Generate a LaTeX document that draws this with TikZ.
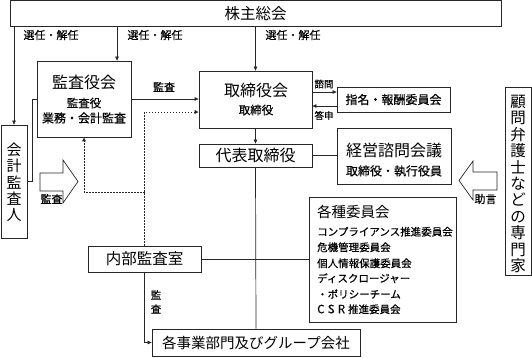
\documentclass[tikz,border=0pt]{standalone}
\usepackage{fontspec}
\setmainfont{Noto Sans CJK JP}
\newfontfamily\semib{Noto Sans CJK JP}[FakeBold=0.5]
\usetikzlibrary{arrows.meta,calc}
\newcommand\myfs[1]{\fontsize{#1}{#1}\selectfont}
\newcommand\smfs[1]{\semib\fontsize{#1}{#1}\selectfont}
\begin{document}
\begin{tikzpicture}[x=1pt,y=-1pt,
  box/.style={draw=black!85, line width=0.8pt, inner sep=0pt, align=center},
  txt/.style={inner sep=0pt, align=center},
  lbl/.style={inner sep=0pt, font=\smfs{11}},
  ln/.style={draw=black!85, line width=0.7pt},
  arr/.style={ln, -{Triangle[length=4pt,width=3.6pt]}},
  dots/.style={draw=black!85, line width=1pt, dash pattern=on 1.2pt off 1.8pt},
  darr/.style={dots, -{Triangle[length=4pt,width=3.6pt]}},
  blockarrow/.style={draw=black!85, line width=0.7pt, fill=white, line join=miter}
]
\useasboundingbox (0,0) rectangle (532,357);

% boxes
\node[box, minimum width=491pt, minimum height=26pt, font=\myfs{15.5}] (s) at (255.5,13.5) {株主総会};
\node[box, minimum width=26pt, minimum height=113pt] (a) at (14,181.5) {};
\node[txt, font=\fontsize{15}{16.3}\selectfont] (at) at (14,182.5) {会\\計\\監\\査\\人};
\node[box, minimum width=26pt, minimum height=188pt] (p) at (518,181) {};
\node[txt, font=\fontsize{15.5}{16.4}\selectfont] (pt) at (518,184) {顧\\問\\弁\\護\\士\\な\\ど\\の\\専\\門\\家};

\node[box, minimum width=94pt, minimum height=76pt] (k) at (84,99) {};
\node[txt, font=\myfs{16}] (k1) at (84,82) {監査役会};
\node[txt, font=\smfs{11.5}] (k2) at (84,103) {監査役};
\node[txt, font=\smfs{12}] (k3) at (84,118) {業務・会計監査};

\node[box, minimum width=113pt, minimum height=57pt] (t) at (255.5,99.5) {};
\node[txt, font=\myfs{16}] (t1) at (256,90) {取締役会};
\node[txt, font=\smfs{11.5}] (t2) at (256,110) {取締役};

\node[box, minimum width=113pt, minimum height=23pt, font=\myfs{16}] (d) at (255.5,155.5) {代表取締役};
\node[box, minimum width=113pt, minimum height=25pt, font=\smfs{12}] (n) at (393.5,99.5) {指名・報酬委員会};

\node[box, minimum width=114pt, minimum height=56pt] (m) at (394,156) {};
\node[txt, font=\myfs{16}] (m1) at (394,150.5) {経営諮問会議};
\node[txt, font=\smfs{12}] (m2) at (394,171) {取締役・執行役員};

\node[box, minimum width=147pt, minimum height=125pt] (c) at (382.5,259.5) {};
\node[txt, anchor=west, font=\myfs{14.5}] (c0) at (317,211.7) {各種委員会};
\node[txt, anchor=west, font=\smfs{10.5}] (c1) at (317,231.7) {コンプライアンス推進委員会};
\node[txt, anchor=west, font=\smfs{10.5}] (c2) at (317,247.3) {危機管理委員会};
\node[txt, anchor=west, font=\smfs{10.5}] (c3) at (317,263.3) {個人情報保護委員会};
\node[txt, anchor=west, font=\smfs{10.5}] (c4) at (317,278.3) {ディスクロージャー};
\node[txt, anchor=west, font=\smfs{10.5}] (c5) at (317,294) {・ポリシーチーム};
\node[txt, anchor=west, font=\smfs{10.5}] (c6) at (317,309.3) {\fontsize{11.5}{11.5}\selectfont C\kern3.2pt S\kern3.2pt R\kern3pt\fontsize{10.5}{10.5}\selectfont 推進委員会};

\node[box, minimum width=113pt, minimum height=26pt, font=\myfs{15.5}] (i) at (144.5,259) {内部監査室};
\node[box, minimum width=208pt, minimum height=27pt, font=\myfs{14.5}] (j) at (256,342.5) {各事業部門及びグループ会社};

% helper coordinates
\coordinate (xk) at (117,0);
\coordinate (yu) at (0,112);
\coordinate (yk) at (0,192);
\coordinate (ya) at (0,181);
\coordinate (xa) at (32,0);
\coordinate (y1) at (0,92);
\coordinate (y2) at (0,106);

% connectors from 株主総会
\draw[arr] (s.south -| a.north) -- (a.north);
\draw[arr] (s.south -| xk) -- (k.north -| xk);
\draw[arr] (s.south -| t.north) -- (t.north);
\node[lbl] (l1) at (51,35) {選任・解任};
\node[lbl] (l2) at (155,35) {選任・解任};
\node[lbl] (l3) at (293,35) {選任・解任};

% 監査役会 -> 取締役会
\draw[arr] (k.east) -- (k.east -| t.west);
\node[lbl] (l4) at (164,87) {監査};

% 取締役会 -> 代表取締役 -> 各事業部門
\draw[arr] (t.south) -- (d.north);
\draw[ln] (d.south) -- (j.north);
\draw[ln] (d.east) -- (d.east -| m.west);

% 指名・報酬委員会
\draw[arr] (t.east |- y1) -- (n.west |- y1);
\draw[arr] (n.west |- y2) -- (t.east |- y2);
\node[lbl, font=\smfs{9.5}] (l5) at (324,84) {諮問};
\node[lbl, font=\smfs{9.5}] (l6) at (324,115.5) {答申};

% 会計監査人 bracket
\draw[ln] (a.east |- ya) -- (xa |- ya) -- (xa |- k.west) -- (k.west);

% dotted reporting lines
\draw[darr] (i.north) -- (i.north |- yu) -- (t.west |- yu);
\draw[darr] (i.north |- yk) -- (k.south |- yk) -- (k.south);

% 内部監査室 lines
\draw[ln] (i.east) -- (i.east -| c.west);
\draw[arr] (i.south) |- (j.west);
\node[txt, font=\semib\fontsize{10.5}{14}\selectfont] (l7) at (156,302) {監\\査};

% block arrows
\draw[blockarrow] (40,173) -- (63,173) -- (63,160) -- (78,181.5) -- (63,203) -- (63,191) -- (40,191) -- cycle;
\node[lbl] (l8) at (51.5,199) {監査};
\draw[blockarrow] (497,172) -- (473,172) -- (473,161) -- (459,180.5) -- (473,200) -- (473,190) -- (497,190) -- cycle;
\node[lbl] (l9) at (485.5,199) {助言};
\end{tikzpicture}
\end{document}
